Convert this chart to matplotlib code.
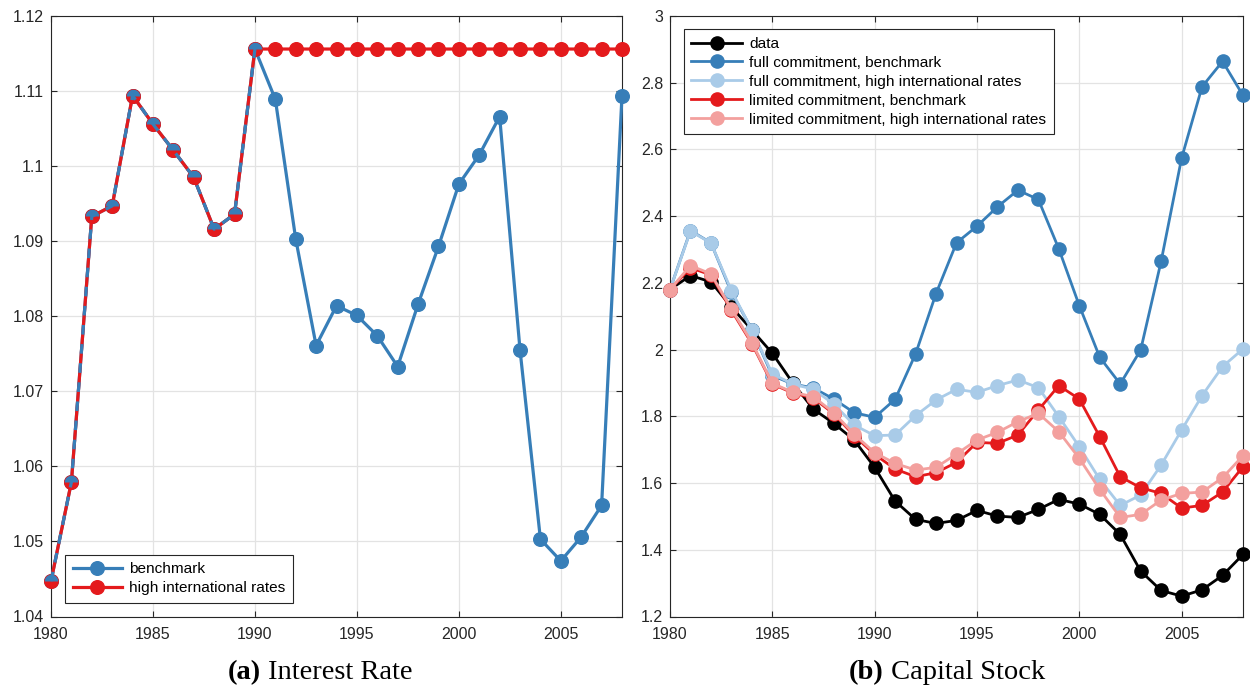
import matplotlib
matplotlib.use("Agg")
import matplotlib.pyplot as plt
from matplotlib.ticker import FuncFormatter

years = list(range(1980, 2009))

# panel (a): gross interest rate
rate_benchmark = [1.0447, 1.0579, 1.0933, 1.0947, 1.1094, 1.1056, 1.1021, 1.0985,
                  1.0916, 1.0936, 1.1156, 1.1089, 1.0903, 1.0761, 1.0814, 1.0801,
                  1.0774, 1.0733, 1.0816, 1.0893, 1.0976, 1.1015, 1.1066, 1.0755,
                  1.0503, 1.0474, 1.0506, 1.0548, 1.1094]
rate_high = [1.0447, 1.0579, 1.0933, 1.0947, 1.1094, 1.1056, 1.1021, 1.0985,
             1.0916, 1.0936, 1.1156, 1.1156, 1.1156, 1.1156, 1.1156, 1.1156,
             1.1156, 1.1156, 1.1156, 1.1156, 1.1156, 1.1156, 1.1156, 1.1156,
             1.1156, 1.1156, 1.1156, 1.1156, 1.1156]

# panel (b): capital stock
k_data = [2.18, 2.222, 2.203, 2.128, 2.059, 1.989, 1.900, 1.822, 1.779, 1.729,
          1.647, 1.546, 1.491, 1.479, 1.488, 1.518, 1.501, 1.497, 1.521, 1.551,
          1.537, 1.506, 1.446, 1.336, 1.278, 1.261, 1.280, 1.323, 1.386]
k_full_bench = [2.18, 2.357, 2.320, 2.172, 2.060, 1.922, 1.897, 1.885, 1.852, 1.811,
                1.797, 1.851, 1.987, 2.168, 2.320, 2.370, 2.428, 2.478, 2.450, 2.302,
                2.132, 1.977, 1.897, 1.999, 2.265, 2.574, 2.788, 2.864, 2.762]
k_full_high = [2.18, 2.355, 2.320, 2.177, 2.059, 1.927, 1.897, 1.881, 1.837, 1.774,
               1.742, 1.744, 1.802, 1.849, 1.881, 1.872, 1.892, 1.909, 1.886, 1.799,
               1.709, 1.611, 1.533, 1.564, 1.654, 1.759, 1.862, 1.949, 2.002]
k_lim_bench = [2.18, 2.245, 2.224, 2.118, 2.018, 1.897, 1.870, 1.855, 1.808, 1.742,
               1.686, 1.642, 1.619, 1.631, 1.662, 1.722, 1.719, 1.744, 1.819, 1.892,
               1.852, 1.739, 1.619, 1.586, 1.569, 1.525, 1.533, 1.573, 1.649]
k_lim_high = [2.18, 2.252, 2.227, 2.122, 2.021, 1.899, 1.872, 1.859, 1.811, 1.746,
              1.691, 1.659, 1.639, 1.647, 1.687, 1.729, 1.752, 1.784, 1.809, 1.754,
              1.674, 1.581, 1.497, 1.506, 1.549, 1.569, 1.573, 1.616, 1.682]

rate_ticks = [1.04, 1.05, 1.06, 1.07, 1.08, 1.09, 1.1, 1.11, 1.12]
k_ticks = [1.2, 1.4, 1.6, 1.8, 2.0, 2.2, 2.4, 2.6, 2.8, 3.0]
year_ticks = [1980, 1985, 1990, 1995, 2000, 2005]

BLUE = "#377eb8"
RED = "#e41a1c"
LIGHT_BLUE = "#a9cbe8"
PINK = "#f3a09e"
AXIS = "#262626"

plt.rcParams["font.family"] = ["Liberation Sans", "DejaVu Sans"]

W, H = 1250, 687
fig = plt.figure(figsize=(W / 100, H / 100), dpi=100)
ax_a = fig.add_axes([51 / W, (H - 616.5) / H, 571 / W, 600.5 / H])
ax_b = fig.add_axes([670 / W, (H - 616.5) / H, 573 / W, 600.5 / H])


def style_axes(ax, yticks, ylim):
    ax.set_xlim(1980, 2008)
    ax.set_ylim(*ylim)
    ax.set_xticks(year_ticks)
    ax.set_yticks(yticks)
    ax.yaxis.set_major_formatter(FuncFormatter(lambda v, p: f"{v:g}"))
    ax.grid(True, color="#e3e3e3", linewidth=0.9)
    ax.set_axisbelow(True)
    ax.tick_params(direction="in", length=4, width=0.8, colors=AXIS,
                   labelsize=11.5, top=True, right=True)
    ax.tick_params(axis="x", pad=7.5)
    ax.tick_params(axis="y", pad=5)
    for s in ax.spines.values():
        s.set_color(AXIS)
        s.set_linewidth(0.8)


def add_legend(ax, loc, anchor, hlen):
    leg = ax.legend(loc=loc, bbox_to_anchor=anchor, borderaxespad=0,
                    fontsize=11.1, handlelength=hlen, fancybox=False, framealpha=1,
                    edgecolor=AXIS, borderpad=0.5, labelspacing=0.32,
                    handletextpad=0.45)
    leg.get_frame().set_linewidth(0.8)


lw, ms = 2.3, 9.8

# (a) interest rate
ax_a.plot(years, rate_benchmark, color=BLUE, lw=lw, marker="o", ms=ms,
          mec=BLUE, label="benchmark", zorder=3, clip_on=False)
ax_a.plot(years, rate_high, color=RED, lw=lw, marker="o", ms=ms,
          mec=RED, label="high international rates", zorder=4, clip_on=False)
# the two series coincide up to 1990: blue dashes on top of the red line
ax_a.plot(years[:11], rate_benchmark[:11], color=BLUE, lw=lw, ls=(0, (3, 3)),
          marker="o", ms=ms, fillstyle="top", mew=0, zorder=5, clip_on=False)
style_axes(ax_a, rate_ticks, (1.04, 1.12))
add_legend(ax_a, "lower left", (0.0245, 0.0225), 3.2)

# (b) capital stock
lw_b, ms_b = 2.0, 9.5
series_b = [
    (k_data, "black", "data"),
    (k_full_bench, BLUE, "full commitment, benchmark"),
    (k_full_high, LIGHT_BLUE, "full commitment, high international rates"),
    (k_lim_bench, RED, "limited commitment, benchmark"),
    (k_lim_high, PINK, "limited commitment, high international rates"),
]
for i, (vals, col, lab) in enumerate(series_b):
    ax_b.plot(years, vals, color=col, lw=lw_b, marker="o", ms=ms_b, mec=col,
              label=lab, zorder=3 + i, clip_on=False)
style_axes(ax_b, k_ticks, (1.2, 3.0))
add_legend(ax_b, "upper left", (0.024, 0.978), 3.3)


def caption(cx, baseline, tag, rest):
    kw = dict(family=["Liberation Serif", "DejaVu Serif"], fontsize=20.5,
              va="baseline")
    t1 = fig.text(0, (H - baseline) / H, tag, fontweight="bold", **kw)
    t2 = fig.text(0, (H - baseline) / H, rest, **kw)
    r = fig.canvas.get_renderer()
    w1 = t1.get_window_extent(r).width
    w2 = t2.get_window_extent(r).width
    x0 = cx - (w1 + w2) / 2
    t1.set_x(x0 / W)
    t2.set_x((x0 + w1) / W)


caption(320, 679, "(a)", " Interest Rate")
caption(947, 679, "(b)", " Capital Stock")

fig.savefig("out.png", dpi=100)
